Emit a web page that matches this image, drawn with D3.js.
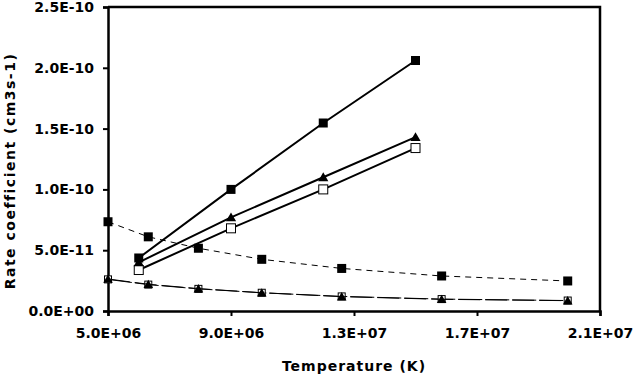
<!DOCTYPE html>
<html>
<head>
<meta charset="utf-8">
<script src="https://cdn.jsdelivr.net/npm/d3@7"></script>
<style>
    body { margin: 0; background: #fff; }
    text { font-weight: bold; fill: #000; }
</style>
</head>
<body>
<div id="chart"></div>
<script>
// Upper series (temperatures 6.0E+06 .. 1.5E+07)
const tempsHigh = [6.0e6, 9.0e6, 1.2e7, 1.5e7];
const filledSquareSolid = [4.36e-11, 1.0e-10, 1.546e-10, 2.06e-10];
const triangleSolid = [4.0e-11, 7.7e-11, 1.10e-10, 1.43e-10];
const hollowSquareSolid = [3.37e-11, 6.8e-11, 1.0e-10, 1.34e-10];

// Lower series (log-spaced temperatures)
const tempsLow = [5.0e6, 6.31e6, 7.94e6, 1.0e7, 1.26e7, 1.585e7, 1.995e7];
const filledSquareDashed = [7.34e-11, 6.1e-11, 5.16e-11, 4.25e-11, 3.5e-11, 2.88e-11, 2.47e-11];
const hollowSquareLow = [2.6e-11, 2.17e-11, 1.82e-11, 1.5e-11, 1.2e-11, 0.98e-11, 0.86e-11];
const triangleDashed = [2.63e-11, 2.2e-11, 1.84e-11, 1.5e-11, 1.18e-11, 0.96e-11, 0.85e-11];

const xTicks = [5.0e6, 9.0e6, 1.3e7, 1.7e7, 2.1e7];
const yTicks = [0, 5e-11, 1e-10, 1.5e-10, 2e-10, 2.5e-10];

const W = 633, H = 377;
const plot = {left: 108, right: 600, top: 7, bottom: 311};

const svg = d3.select("#chart").append("svg")
    .attr("width", W)
    .attr("height", H);

const x = d3.scaleLinear().domain([5e6, 2.1e7]).range([plot.left, plot.right]);
const y = d3.scaleLinear().domain([0, 2.5e-10]).range([plot.bottom, plot.top]);

// format like Excel scientific "5.0E+06"
function sci(v) {
    if (v === 0) return "0.0E+00";
    let e = Math.floor(Math.log10(Math.abs(v)) + 1e-9);
    let m = v / Math.pow(10, e);
    return m.toFixed(1) + "E" + (e < 0 ? "-" : "+") + String(Math.abs(e)).padStart(2, "0");
}

const font = "'DejaVu Sans', sans-serif";

// frame (top and right)
svg.append("path")
    .attr("d", `M${x(5e6)},${y(2.5e-10)} H${x(2.1e7)} V${y(0)}`)
    .attr("fill", "none")
    .attr("stroke", "#000")
    .attr("stroke-width", 2.5);

// X axis
const gx = svg.append("g")
    .attr("transform", `translate(0, ${y(0)})`)
    .call(d3.axisBottom(x).tickValues(xTicks).tickFormat(sci).tickSize(5).tickPadding(12));
gx.select(".domain").attr("stroke-width", 2.5);
gx.selectAll(".tick line").attr("stroke-width", 2);
gx.selectAll("text")
    .style("font-size", "14px")
    .style("font-family", font)
    .style("font-weight", "bold");

// Y axis
const gy = svg.append("g")
    .attr("transform", `translate(${x(5e6)}, 0)`)
    .call(d3.axisLeft(y).tickValues(yTicks).tickFormat(sci).tickSize(5).tickPadding(9));
gy.select(".domain").attr("stroke-width", 2.5);
gy.selectAll(".tick line").attr("stroke-width", 2);
gy.selectAll("text")
    .style("font-size", "14px")
    .style("font-family", font)
    .style("font-weight", "bold");

// axis titles
svg.append("text")
    .attr("x", (plot.left + plot.right) / 2)
    .attr("y", 371)
    .attr("text-anchor", "middle")
    .style("font-family", font)
    .style("font-size", "14px")
    .style("letter-spacing", "1px")
    .text("Temperature (K)");

svg.append("text")
    .attr("transform", "translate(15, 171) rotate(-90)")
    .attr("text-anchor", "middle")
    .style("font-family", font)
    .style("font-size", "14px")
    .style("letter-spacing", "1.5px")
    .text("Rate coefficient (cm3s-1)");

const line = d3.line()
    .x(d => x(d[0]))
    .y(d => y(d[1]));

function drawSeries(temps, vals, opts) {
    let pts = temps.map((t, i) => [t, vals[i]]);
    svg.append("path")
        .datum(pts)
        .attr("d", line)
        .attr("fill", "none")
        .attr("stroke", "#000")
        .attr("stroke-width", opts.width)
        .attr("stroke-dasharray", opts.dash || null);

    let g = svg.append("g");
    if (opts.marker === "triangle") {
        let sym = d3.symbol().type(d3.symbolTriangle).size(opts.size || 40);
        g.selectAll("path")
            .data(pts)
            .join("path")
            .attr("transform", d => `translate(${x(d[0])}, ${y(d[1]) + 1})`)
            .attr("d", sym)
            .attr("fill", "#000");
    } else {
        let s = opts.size || 8;
        g.selectAll("rect")
            .data(pts)
            .join("rect")
            .attr("x", d => x(d[0]) - s / 2)
            .attr("y", d => y(d[1]) - s / 2)
            .attr("width", s)
            .attr("height", s)
            .attr("fill", opts.marker === "hollow" ? "#fff" : "#000")
            .attr("stroke", "#000")
            .attr("stroke-width", opts.marker === "hollow" ? 1 : 0);
    }
}

// lower series
drawSeries(tempsLow, filledSquareDashed, {marker: "filled", width: 1, dash: "6,5", size: 9});
drawSeries(tempsLow, hollowSquareLow, {marker: "hollow", width: 1, dash: "24,3", size: 7});
drawSeries(tempsLow, triangleDashed, {marker: "triangle", width: 1, dash: "22,5", size: 40});

// upper series
drawSeries(tempsHigh, hollowSquareSolid, {marker: "hollow", width: 2, size: 9});
drawSeries(tempsHigh, triangleSolid, {marker: "triangle", width: 2, size: 45});
drawSeries(tempsHigh, filledSquareSolid, {marker: "filled", width: 2, size: 9});
</script>
</body>
</html>
